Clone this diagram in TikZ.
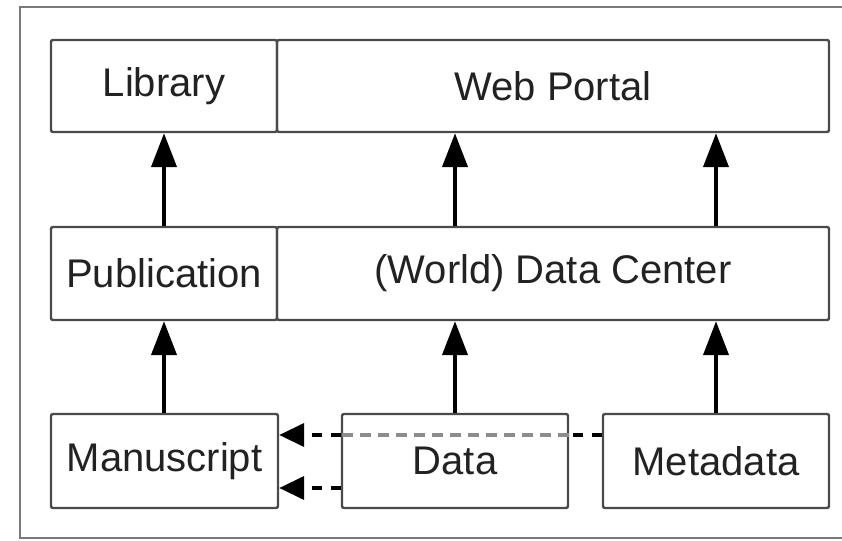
\documentclass[tikz,border=0pt]{standalone}
\usepackage{fontspec}
\setmainfont{Liberation Sans}
\usetikzlibrary{arrows.meta}
\definecolor{boxline}{HTML}{4A4A4A}
\definecolor{frameline}{HTML}{7A7A7A}
\definecolor{labeltext}{HTML}{222222}
\definecolor{innerdash}{HTML}{8C8C8C}
\tikzset{
  box/.style={draw=boxline, line width=2.4pt, rounded corners=2pt, inner sep=0pt,
    text=labeltext, font=\fontsize{40}{48}\selectfont},
  flow/.style={line width=4.2pt, draw=black,
    -{Triangle[length=34pt,width=25pt]}},
  linkdash/.style={line width=4pt, draw=black, dash pattern=on 10pt off 9pt},
  linkhead/.style={-{Triangle[length=25pt,width=23pt]}},
  innerlink/.style={line width=3.6pt, draw=innerdash, dash pattern=on 11pt off 7pt}
}
\begin{document}
\begin{tikzpicture}[x=1pt,y=1pt]
\useasboundingbox (0,0) rectangle (842,540);
% outer frame, open to the right
\draw[frameline, line width=2pt] (842,532.5) -- (19.5,532.5) -- (19.5,2) -- (842,2);

% top row
\node[box, minimum width=226pt, minimum height=92pt] (Library) at (164,454) {Library};
\node[box, minimum width=552pt, minimum height=92pt] (Portal) at (553,454) {Web Portal};
% middle row
\node[box, minimum width=226pt, minimum height=93pt] (Publication) at (164,266.5) {Publication};
\node[box, minimum width=552pt, minimum height=93pt] (WDC) at (553,266.5) {(World) Data Center};
% bottom row
\node[box, minimum width=227pt, minimum height=94pt] (Manuscript) at (164.5,79) {Manuscript};
\node[box, minimum width=226pt, minimum height=94pt] (Data) at (455,79) {Data};
\node[box, minimum width=226pt, minimum height=94pt] (Metadata) at (716,79) {Metadata};

% upward flows
\draw[flow] (Manuscript.north -| Library.south) -- (Publication.south);
\draw[flow] (Publication.north) -- (Library.south);
\draw[flow] (Data.north) -- (Data.north |- WDC.south);
\draw[flow] (Metadata.north) -- (Metadata.north |- WDC.south);
\draw[flow] (Data.north |- WDC.north) -- (Data.north |- Portal.south);
\draw[flow] (Metadata.north |- WDC.north) -- (Metadata.north |- Portal.south);

% dashed links into the manuscript
\coordinate (m1) at (Metadata.west |- 0,105);
\coordinate (de1) at (Data.east |- 0,105);
\coordinate (dw1) at (Data.west |- 0,105);
\coordinate (ms1) at (Manuscript.east |- 0,105);
\coordinate (dw2) at (Data.west |- 0,52);
\coordinate (ms2) at (Manuscript.east |- 0,52);
\draw[linkdash] (m1) -- (de1);
\draw[innerlink] (de1) -- (dw1);
\draw[linkdash, linkhead] (dw1) -- (ms1);
\draw[linkdash, linkhead] (dw2) -- (ms2);
\end{tikzpicture}
\end{document}
